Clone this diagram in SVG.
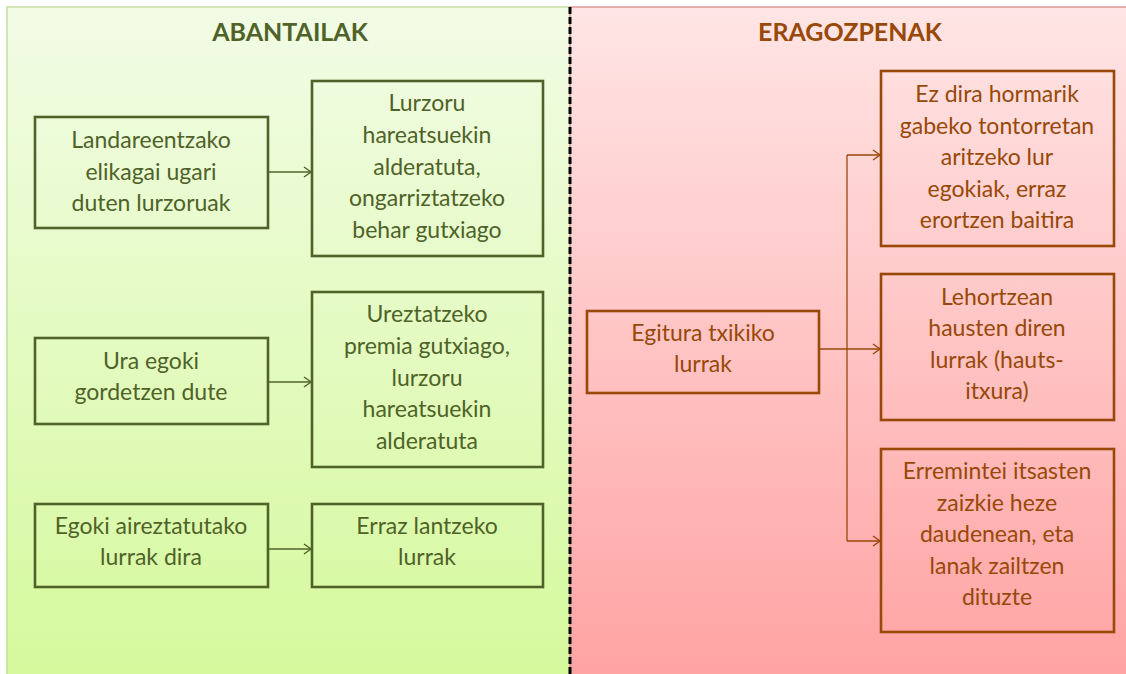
<svg xmlns="http://www.w3.org/2000/svg" width="1126" height="674" viewBox="0 0 1126 674">
<defs>
<linearGradient id="gGreen" x1="0" y1="0" x2="0" y2="1">
<stop offset="0" stop-color="#f2fce6"/>
<stop offset="1" stop-color="#d5f99c"/>
</linearGradient>
<linearGradient id="gPink" x1="0" y1="0" x2="0" y2="1">
<stop offset="0" stop-color="#ffe5e5"/>
<stop offset="1" stop-color="#ffa3a3"/>
</linearGradient>
<marker id="arG" markerWidth="12" markerHeight="12" refX="10" refY="6" orient="auto" markerUnits="userSpaceOnUse">
<path d="M3,1 L10,6 L3,11" fill="none" stroke="#4f6228" stroke-width="1.4"/>
</marker>
<marker id="arB" markerWidth="12" markerHeight="12" refX="10" refY="6" orient="auto" markerUnits="userSpaceOnUse">
<path d="M3,1 L10,6 L3,11" fill="none" stroke="#984807" stroke-width="1.4"/>
</marker>
</defs>
<style>
.t{font-family:Lato,"Open Sans","Liberation Sans",sans-serif;font-size:23px;text-anchor:middle}
.tg{fill:#4f6228}
.tb{fill:#984807}
.h{font-family:Lato,"Open Sans","Liberation Sans",sans-serif;font-size:25px;font-weight:bold;text-anchor:middle}
.bg{fill:none;stroke:#4f6228;stroke-width:2.6}
.bb{fill:none;stroke:#984807;stroke-width:2.6}
.cg{fill:none;stroke:#4f6228;stroke-width:1.3}
.cb{fill:none;stroke:#984807;stroke-width:1.3}
</style>
<rect x="0" y="0" width="1126" height="674" fill="#ffffff"/>
<g id="panel-left">
<rect x="7" y="7" width="563" height="670" fill="url(#gGreen)" stroke="#b5d98a" stroke-width="1.2"/>
<text class="h tg" x="290" y="41">ABANTAILAK</text>
</g>
<g id="panel-right">
<rect x="570" y="7" width="560" height="670" fill="url(#gPink)" stroke="#d98080" stroke-width="1.2"/>
<text class="h tb" x="850" y="41">ERAGOZPENAK</text>
</g>
<line x1="570" y1="7" x2="570" y2="674" stroke="#000000" stroke-width="3" stroke-dasharray="7,3"/>
<g id="connectors">
<line class="cg" x1="268" y1="172" x2="311" y2="172" marker-end="url(#arG)"/>
<line class="cg" x1="268" y1="382" x2="311" y2="382" marker-end="url(#arG)"/>
<line class="cg" x1="268" y1="549" x2="311" y2="549" marker-end="url(#arG)"/>
<line class="cb" x1="819" y1="349" x2="880" y2="349" marker-end="url(#arB)"/>
<line class="cb" x1="847" y1="155" x2="847" y2="541"/>
<line class="cb" x1="847" y1="155" x2="880" y2="155" marker-end="url(#arB)"/>
<line class="cb" x1="847" y1="541" x2="880" y2="541" marker-end="url(#arB)"/>
</g>
<g id="n-landare">
<rect class="bg" x="35" y="117" width="233" height="111"/>
<text class="t tg" x="151" y="148">Landareentzako</text>
<text class="t tg" x="151" y="180">elikagai ugari</text>
<text class="t tg" x="151" y="211">duten lurzoruak</text>
</g>
<g id="n-lurzoru">
<rect class="bg" x="312" y="81" width="231" height="175"/>
<text class="t tg" x="427" y="111">Lurzoru</text>
<text class="t tg" x="427" y="143">hareatsuekin</text>
<text class="t tg" x="427" y="175">alderatuta,</text>
<text class="t tg" x="427" y="206">ongarriztatzeko</text>
<text class="t tg" x="427" y="238">behar gutxiago</text>
</g>
<g id="n-ura">
<rect class="bg" x="35" y="338" width="233" height="86"/>
<text class="t tg" x="151" y="369">Ura egoki</text>
<text class="t tg" x="151" y="400">gordetzen dute</text>
</g>
<g id="n-ureztatzeko">
<rect class="bg" x="312" y="292" width="231" height="175"/>
<text class="t tg" x="427" y="322">Ureztatzeko</text>
<text class="t tg" x="427" y="354">premia gutxiago,</text>
<text class="t tg" x="427" y="386">lurzoru</text>
<text class="t tg" x="427" y="417">hareatsuekin</text>
<text class="t tg" x="427" y="449">alderatuta</text>
</g>
<g id="n-egoki">
<rect class="bg" x="35" y="504" width="233" height="83"/>
<text class="t tg" x="151" y="534">Egoki aireztatutako</text>
<text class="t tg" x="151" y="565">lurrak dira</text>
</g>
<g id="n-erraz">
<rect class="bg" x="312" y="504" width="231" height="83"/>
<text class="t tg" x="427" y="534">Erraz lantzeko</text>
<text class="t tg" x="427" y="565">lurrak</text>
</g>
<g id="n-egitura">
<rect class="bb" x="587" y="311" width="232" height="82"/>
<text class="t tb" x="703" y="341">Egitura txikiko</text>
<text class="t tb" x="703" y="372">lurrak</text>
</g>
<g id="n-hormarik">
<rect class="bb" x="881" y="71" width="233" height="175"/>
<text class="t tb" x="997" y="102">Ez dira hormarik</text>
<text class="t tb" x="997" y="134">gabeko tontorretan</text>
<text class="t tb" x="997" y="165">aritzeko lur</text>
<text class="t tb" x="997" y="197">egokiak, erraz</text>
<text class="t tb" x="997" y="228">erortzen baitira</text>
</g>
<g id="n-lehortzean">
<rect class="bb" x="881" y="274" width="233" height="146"/>
<text class="t tb" x="997" y="305">Lehortzean</text>
<text class="t tb" x="997" y="336">hausten diren</text>
<text class="t tb" x="997" y="368">lurrak (hauts-</text>
<text class="t tb" x="997" y="399">itxura)</text>
</g>
<g id="n-erremintei">
<rect class="bb" x="881" y="449" width="233" height="183"/>
<text class="t tb" x="997" y="479">Erremintei itsasten</text>
<text class="t tb" x="997" y="511">zaizkie heze</text>
<text class="t tb" x="997" y="542">daudenean, eta</text>
<text class="t tb" x="997" y="574">lanak zailtzen</text>
<text class="t tb" x="997" y="605">dituzte</text>
</g>
</svg>
